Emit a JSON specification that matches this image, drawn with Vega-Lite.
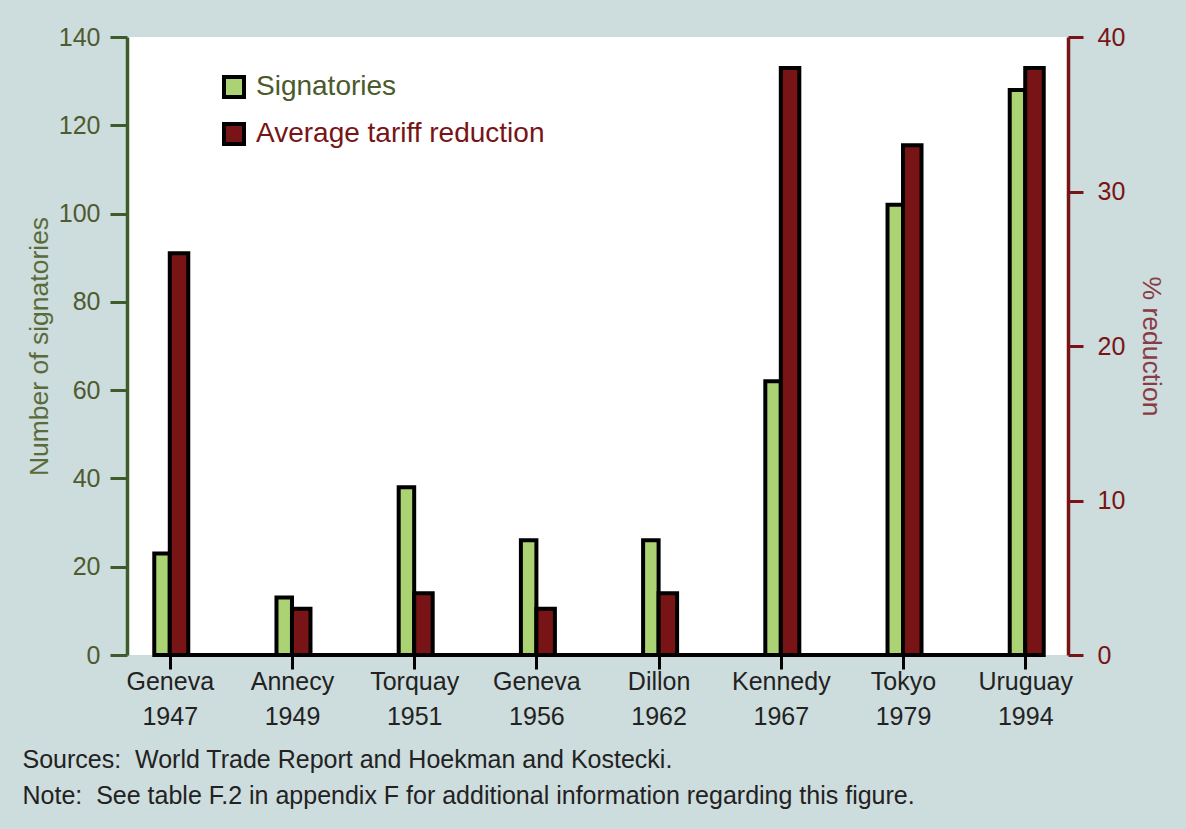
{
  "$schema": "https://vega.github.io/schema/vega-lite/v6.json",
  "width": 941,
  "height": 618,
  "autosize": {"type": "none"},
  "padding": {"left": 127, "top": 37, "right": 118, "bottom": 174},
  "background": "#cddcdc",
  "config": {
    "font": "Liberation Sans",
    "view": {"fill": "white", "stroke": null},
    "axis": {"grid": false, "titleFontWeight": "normal", "labelFontWeight": "normal"}
  },
  "data": {
    "values": [
      {"round": "Geneva 1947", "signatories": 23, "reduction": 26},
      {"round": "Annecy 1949", "signatories": 13, "reduction": 3},
      {"round": "Torquay 1951", "signatories": 38, "reduction": 4},
      {"round": "Geneva 1956", "signatories": 26, "reduction": 3},
      {"round": "Dillon 1962", "signatories": 26, "reduction": 4},
      {"round": "Kennedy 1967", "signatories": 62, "reduction": 38},
      {"round": "Tokyo 1979", "signatories": 102, "reduction": 33},
      {"round": "Uruguay 1994", "signatories": 128, "reduction": 38}
    ]
  },
  "layer": [
    {
      "layer": [
        {
          "mark": {"type": "bar", "width": 15.5, "xOffset": -7.75, "stroke": "black", "strokeWidth": 4},
          "encoding": {
            "x": {
              "field": "round", "type": "nominal", "sort": null,
              "scale": {"type": "point", "padding": 0.35},
              "axis": {
                "domain": false, "tickColor": "black", "tickSize": 14, "tickWidth": 3,
                "labelFontSize": 25, "labelColor": "#222222", "labelAngle": 0,
                "labelExpr": "split(datum.label, ' ')", "labelLineHeight": 35, "labelPadding": 0,
                "title": ["Sources:\u00a0 World Trade Report and Hoekman and Kostecki.", "Note:\u00a0 See table F.2 in appendix F for additional information regarding this figure."],
                "titleFontSize": 25, "titleColor": "#222222", "titleLineHeight": 36,
                "titleX": -105, "titleY": 112, "titleAlign": "left", "titleBaseline": "alphabetic", "titleAngle": 0
              }
            },
            "y": {
              "field": "signatories", "type": "quantitative",
              "scale": {"domain": [0, 140], "nice": false},
              "axis": {
                "values": [0, 20, 40, 60, 80, 100, 120, 140],
                "domainColor": "#3d5b2b", "domainWidth": 3.5,
                "tickColor": "#3d5b2b", "tickSize": 17, "tickWidth": 3,
                "labelFontSize": 25, "labelColor": "#4e5a30", "labelPadding": 10,
                "title": "Number of signatories", "titleFontSize": 26.5, "titleColor": "#5a6a3a", "titlePadding": 5
              }
            },
            "color": {
              "datum": "Signatories", "type": "nominal",
              "scale": {"domain": ["Signatories", "Average tariff reduction"], "range": ["#acd373", "#781416"]},
              "legend": {
                "orient": "none", "legendX": 93, "legendY": 36, "title": null,
                "symbolType": "square", "symbolSize": 400, "symbolStrokeColor": "black", "symbolStrokeWidth": 4,
                "symbolOpacity": 1,
                "labelFontSize": 28, "labelOffset": 8, "rowPadding": 11, "labelLimit": 600,
                "encode": {"labels": {"update": {"fill": {"signal": "datum.value === 'Signatories' ? '#4b5a2b' : '#781416'"}}}}
              }
            }
          }
        },
        {
          "mark": {"type": "rule", "xOffset": -15.5, "x2Offset": 18.5, "stroke": "black", "strokeWidth": 4},
          "encoding": {
            "x": {"datum": "Geneva 1947", "type": "nominal"},
            "x2": {"datum": "Uruguay 1994"},
            "y": {"datum": 0, "type": "quantitative"}
          }
        }
      ]
    },
    {
      "mark": {"type": "bar", "width": 18.5, "xOffset": 9.25, "stroke": "black", "strokeWidth": 4},
      "encoding": {
        "x": {"field": "round", "type": "nominal", "sort": null},
        "y": {
          "field": "reduction", "type": "quantitative",
          "scale": {"domain": [0, 40], "nice": false},
          "axis": {
            "orient": "right", "values": [0, 10, 20, 30, 40],
            "domainColor": "#781416", "domainWidth": 3.5,
            "tickColor": "#781416", "tickSize": 15, "tickWidth": 3,
            "labelFontSize": 25, "labelColor": "#781416", "labelPadding": 14,
            "title": "% reduction", "titleFontSize": 26.5, "titleColor": "#8a3a44", "titlePadding": 12
          }
        },
        "color": {"datum": "Average tariff reduction", "type": "nominal"}
      }
    }
  ],
  "resolve": {"scale": {"y": "independent"}}
}
